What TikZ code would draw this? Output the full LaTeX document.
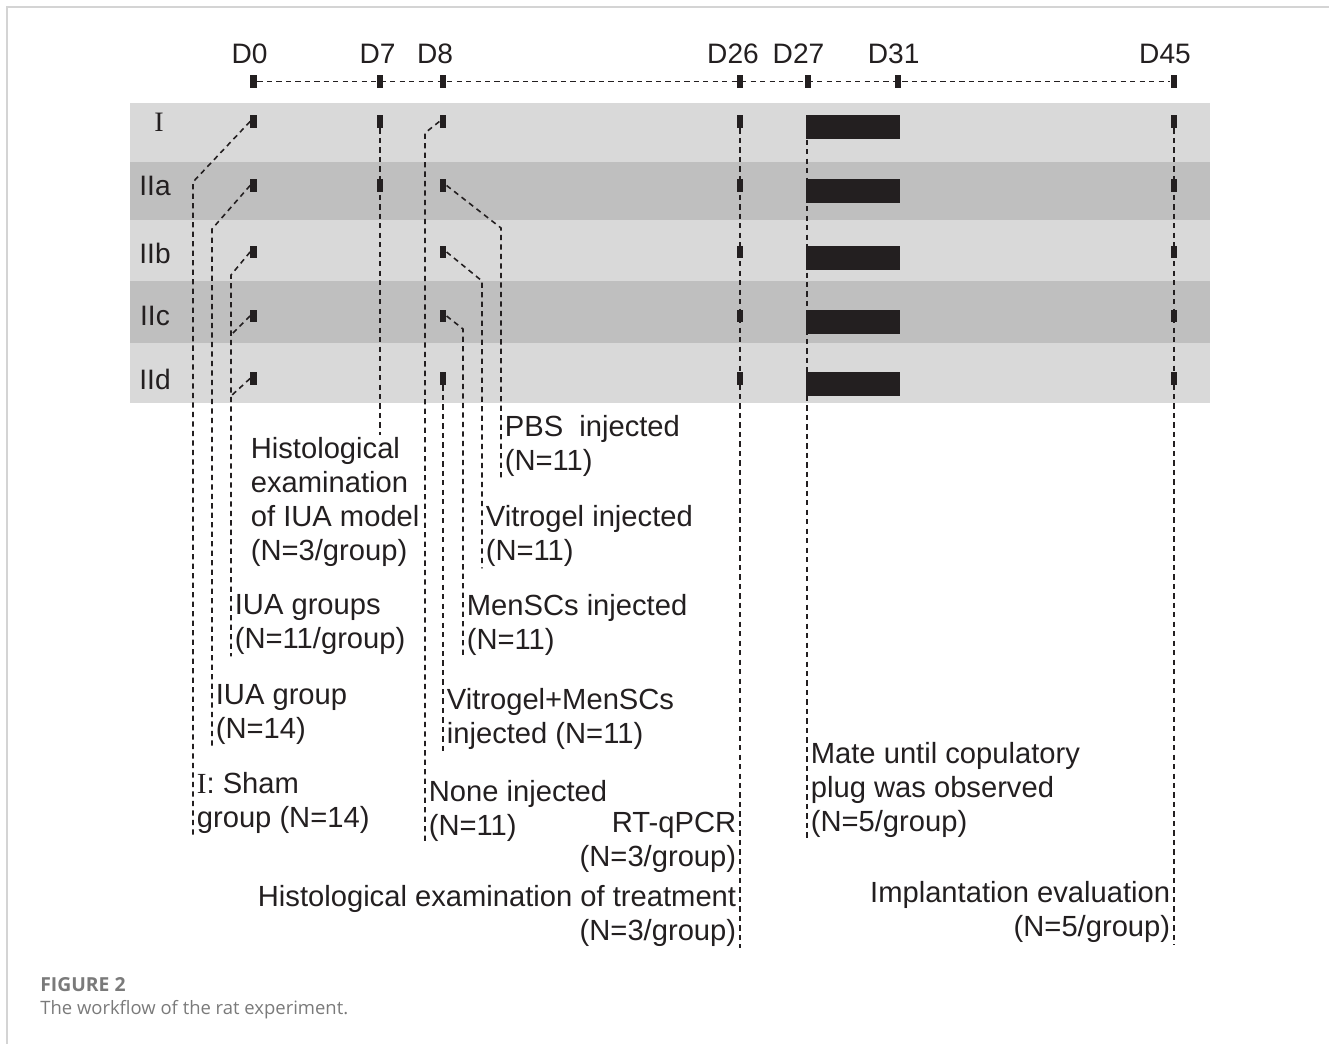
\documentclass[tikz,border=0pt]{standalone}
\usepackage{fontspec}
\setmainfont{Liberation Sans}
\newfontfamily\romfont{Liberation Serif}
\newfontfamily\capfont{Open Sans}
\usetikzlibrary{positioning,calc}
\definecolor{RatInk}{HTML}{231F20}
\definecolor{RatLight}{HTML}{D9D9D9}
\definecolor{RatDark}{HTML}{BFBFBF}
\definecolor{RatCap}{HTML}{7A7A7A}
\definecolor{RatFrame}{HTML}{D4D4D4}

\begin{document}
\begin{tikzpicture}[x=0.02cm,y=-0.02cm,
    daytick/.style={fill=RatInk,inner sep=0,minimum width=0.13cm,minimum height=0.26cm},
    matebar/.style={fill=RatInk,inner sep=0,minimum width=1.88cm,minimum height=0.48cm,anchor=north west},
    leader/.style={RatInk,line width=0.9pt,dash pattern=on 3pt off 2.4pt},
    daylbl/.style={font=\fontsize{16}{18}\selectfont,text=RatInk,inner sep=0},
    rowlbl/.style={font=\fontsize{16}{19.4}\selectfont,text=RatInk,inner sep=0},
    lbl/.style={font=\fontsize{16.6}{19.4}\selectfont,text=RatInk,align=left,anchor=north west,inner xsep=2pt,inner ysep=1pt},
    rlbl/.style={lbl,align=right,anchor=north east}]

  \useasboundingbox (0,0) rectangle (1329,1044);
  \draw[RatFrame,line width=1pt] (7,1044) -- (7,7) -- (1329,7);

  % group bands
  \foreach \ytop/\ybot/\col in {103/162/RatLight,162/220/RatDark,220/281/RatLight,281/343/RatDark,343/403/RatLight}
    \fill[\col] (130,\ytop) rectangle (1210,\ybot);

  % day axis
  \foreach \d/\x/\lx in {0/253.7/249.5,7/380/377.5,8/443/435,26/740/733,27/808/798.5,31/898/893.7,45/1174/1165}{
    \node[daytick] (t\d) at (\x,81.5) {};
    \node[daylbl] (D\d) at (\lx,54) {D\d};
  }
  \draw[leader] (t0) -- (t45);

  % time points per group
  \foreach \r/\y in {I/121.5,IIa/185.5,IIb/252,IIc/316,IId/378.5}{
    \foreach \d/\x in {0/253.7,8/443,26/740,45/1174}
      \node[daytick] (\r-d\d) at (\x,\y) {};
    \node[matebar] (\r-bar) at (806,\y-6.5) {};
  }
  \node[daytick] (I-d7) at (380,121.5) {};
  \node[daytick] (IIa-d7) at (380,185.5) {};

  \node[rowlbl] (rI) at (159,122) {\romfont I};
  \node[rowlbl] (rIIa) at (155,186) {IIa};
  \node[rowlbl] (rIIb) at (155,253) {IIb};
  \node[rowlbl] (rIIc) at (155,316) {IIc};
  \node[rowlbl] (rIId) at (155,379) {IId};

  % notes
  \node[lbl] (histo) at (247,435) {Histological\\examination\\of IUA model\\(N=3/group)};
  \node[lbl] (iuas) at (231,592) {IUA groups\\(N=11/group)};
  \node[lbl] (iua) at (212,682) {IUA group\\(N=14)};
  \node[lbl] (sham) at (193,770) {{\romfont I}: Sham\\group (N=14)};
  \node[lbl] (pbs) at (501,413) {PBS\ \ injected\\(N=11)};
  \node[lbl] (vitro) at (482,503) {Vitrogel injected\\(N=11)};
  \node[lbl] (mensc) at (463,592) {MenSCs injected\\(N=11)};
  \node[lbl] (vitmen) at (443,686) {Vitrogel+MenSCs\\injected (N=11)};
  \node[lbl] (none) at (425,778) {None injected\\(N=11)};
  \node[rlbl] (rtq) at (740,810) {RT-qPCR\\(N=3/group)};
  \node[rlbl] (histtr) at (740,883) {Histological examination of treatment\\(N=3/group)};
  \node[lbl] (mate) at (807,740) {Mate until copulatory\\plug was observed\\(N=5/group)};
  \node[rlbl] (impl) at (1174,879) {Implantation evaluation\hspace{0.1cm}\\(N=5/group)};

  % leaders from D0
  \draw[leader] (I-d0.west) -- (sham.west |- 0,182) -- (sham.south west);
  \draw[leader] (IIa-d0.west) -- (iua.west |- 0,229) -- (iua.south west);
  \draw[leader] (IIb-d0.west) -- (iuas.west |- 0,275) -- (iuas.south west);
  \draw[leader] (IIc-d0.west) -- (iuas.west |- 0,335);
  \draw[leader] (IId-d0.west) -- (iuas.west |- 0,396);
  % leader from D7
  \draw[leader] (I-d7.south) -- (I-d7 |- histo.north);
  % leaders from D8
  \draw[leader] (I-d8.west) -- (none.west |- 0,133) -- (none.south west);
  \draw[leader] (IIa-d8.east) -- (pbs.west |- 0,228) -- (pbs.south west);
  \draw[leader] (IIb-d8.east) -- (vitro.west |- 0,281) -- (vitro.south west);
  \draw[leader] (IIc-d8.east) -- (mensc.west |- 0,329) -- (mensc.south west);
  \draw[leader] (IId-d8.south) -- (IId-d8 |- vitmen.south);
  % leaders from D26, D27, D45
  \draw[leader] (I-d26.south) -- (I-d26 |- histtr.south);
  \draw[leader] (mate.west |- I-bar.south) -- (mate.south west);
  \draw[leader] (I-d45.south) -- (I-d45 |- impl.south);

  % caption
  \node[font=\capfont\bfseries\fontsize{11}{13}\selectfont,text=RatCap,anchor=west,inner sep=0] (figno) at (40,985) {FIGURE 2};
  \node[font=\capfont\fontsize{10.5}{12}\selectfont,text=RatCap,anchor=west,inner sep=0] (figcap) at (40,1010) {The workflow of the rat experiment.};
\end{tikzpicture}
\end{document}
